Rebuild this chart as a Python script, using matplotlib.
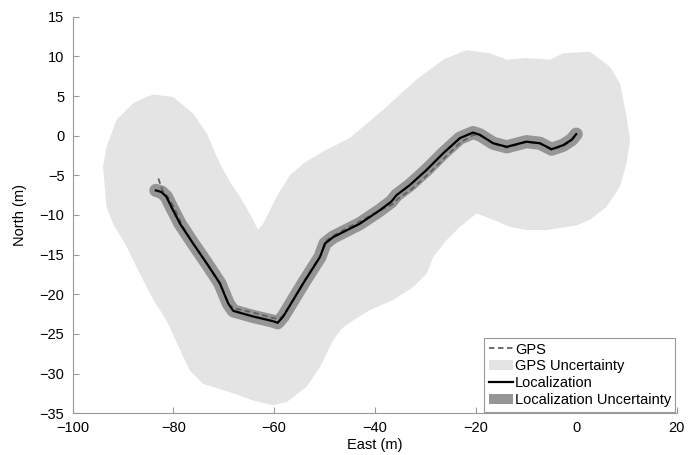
import numpy as np
import matplotlib.pyplot as plt
from matplotlib.lines import Line2D
from matplotlib.patches import Patch

plt.rcParams['font.family'] = ['Liberation Sans', 'DejaVu Sans']

# localization track (m)
loc_east = [-83.5, -82.4, -81.4, -80.4, -78.7, -76.1, -73.4, -70.8, -69.1, -68.1,
            -64.2, -60.2, -59.3, -58.2, -54.2, -50.9, -49.9, -48.3, -43.0, -39.0,
            -36.7, -35.7, -33.0, -29.7, -26.4, -23.1, -20.5, -19.1, -16.5, -13.8,
            -9.9, -7.2, -4.9, -2.6, -0.9, 0.0]
loc_north = [-6.9, -7.1, -7.7, -9.0, -11.1, -13.6, -16.1, -18.6, -21.2, -22.1,
             -22.8, -23.4, -23.6, -22.8, -18.6, -15.3, -13.6, -12.8, -11.1, -9.4,
             -8.3, -7.5, -6.2, -4.3, -2.2, -0.3, 0.4, 0.1, -0.95, -1.4,
             -0.75, -0.95, -1.7, -1.2, -0.5, 0.2]

# GPS track (m)
gps_east = [-83.0, -82.2, -80.9, -79.8, -78.2, -75.7, -73.0, -70.5, -68.9, -67.8,
            -64.2, -60.2, -59.0, -57.8, -54.0, -50.7, -49.6, -48.0, -43.0, -39.2,
            -36.4, -35.3, -32.6, -29.3, -26.0, -22.9, -20.4, -19.0, -16.4, -13.8,
            -9.9, -7.2, -4.9, -2.6, -0.9, 0.0]
gps_north = [-5.4, -6.9, -7.9, -9.2, -11.4, -14.0, -16.5, -19.0, -21.4, -21.8,
             -22.3, -23.0, -23.1, -22.4, -18.3, -15.0, -13.2, -12.5, -10.8, -9.5,
             -8.6, -7.9, -6.7, -4.8, -2.7, -0.8, 0.1, 0.0, -1.0, -1.5,
             -0.8, -1.0, -1.8, -1.3, -0.6, 0.1]

# outline of the GPS uncertainty region (m)
gps_unc_east = [-84.0, -80.1, -76.1, -73.4, -70.8, -68.8, -66.8, -64.5, -63.2, -62.2,
                -59.5, -56.9, -54.2, -50.3, -45.0, -38.3, -31.7, -26.4, -21.8, -17.1,
                -13.8, -9.9, -5.2, -2.6, 2.7, 6.7, 8.7, 10.0, 10.7, 10.0,
                8.7, 6.0, 2.7, 0.1, -3.9, -5.9, -9.9, -13.2, -16.5, -19.8,
                -23.1, -25.8, -28.4, -29.7, -32.4, -36.3, -41.0, -44.3, -46.5, -48.3,
                -50.9, -53.6, -57.5, -60.2, -64.2, -68.1, -74.1, -76.8, -78.7, -81.4,
                -84.0, -86.7, -89.3, -92.0, -93.3, -94.0, -93.3, -91.3, -88.0, -85.4]
gps_unc_north = [5.2, 4.9, 2.8, 0.3, -3.5, -5.8, -7.7, -10.2, -11.9, -11.1,
                 -7.7, -5.0, -3.5, -2.0, -0.3, 3.3, 7.1, 9.6, 10.8, 10.4,
                 9.6, 9.8, 9.6, 10.4, 10.6, 8.7, 6.6, 2.4, -0.5, -3.5,
                 -6.4, -9.0, -10.6, -11.3, -11.7, -11.9, -11.9, -11.5, -10.6, -9.8,
                 -11.5, -13.2, -15.3, -17.4, -19.1, -20.7, -22.0, -23.3, -24.3, -25.8,
                 -29.2, -31.7, -33.6, -34.0, -33.4, -32.5, -31.3, -29.6, -27.0, -23.3,
                 -20.7, -17.4, -14.0, -11.1, -9.0, -3.9, -1.4, 2.0, 4.1, 4.9]

light = '#e4e4e4'
dark = '#959595'

fig, ax = plt.subplots(figsize=(7, 4.55), dpi=100)
fig.subplots_adjust(left=0.104, right=0.967, bottom=0.092, top=0.963)

ax.fill(gps_unc_east, gps_unc_north, color=light, lw=0)
ax.plot(loc_east, loc_north, color=dark, lw=9.5, solid_capstyle='round',
        solid_joinstyle='round')
ax.plot(gps_east, gps_north, color='#606060', lw=1.3, ls=(0, (3, 2)))
ax.plot(loc_east, loc_north, color='black', lw=1.6)

ax.set_xlim(-100, 20)
ax.set_ylim(-35, 15)
ax.set_xticks(np.arange(-100, 21, 20))
ax.set_yticks(np.arange(-35, 16, 5))
fmt = plt.FuncFormatter(lambda v, p: f'{v:.0f}'.replace('-', '\u2212'))
ax.xaxis.set_major_formatter(fmt)
ax.yaxis.set_major_formatter(fmt)
ax.set_xlabel('East (m)', fontsize=10.5, labelpad=2)
ax.set_ylabel('North (m)', fontsize=10.5, labelpad=9)

for s in ['top', 'right']:
    ax.spines[s].set_visible(False)
for s in ['left', 'bottom']:
    ax.spines[s].set_color('#999999')
    ax.spines[s].set_linewidth(0.8)
ax.tick_params(direction='in', length=4, color='#999999', labelsize=10.5)
ax.tick_params(axis='x', pad=6)
ax.tick_params(axis='y', pad=6)

handles = [Line2D([], [], color='#606060', lw=1.3, ls=(0, (3, 2))),
           Patch(facecolor=light, edgecolor='none'),
           Line2D([], [], color='black', lw=1.6),
           Patch(facecolor=dark, edgecolor='none')]
labels = ['GPS', 'GPS Uncertainty', 'Localization', 'Localization Uncertainty']
leg = ax.legend(handles, labels, loc='lower right', bbox_to_anchor=(1.0, 0.0),
                fontsize=10.5, fancybox=False, framealpha=1, edgecolor='#999999',
                handlelength=1.7, handletextpad=0.1, labelspacing=0.2,
                borderpad=0.3, borderaxespad=0.1)
leg.get_frame().set_linewidth(0.8)

fig.savefig('out.png', dpi=100)
